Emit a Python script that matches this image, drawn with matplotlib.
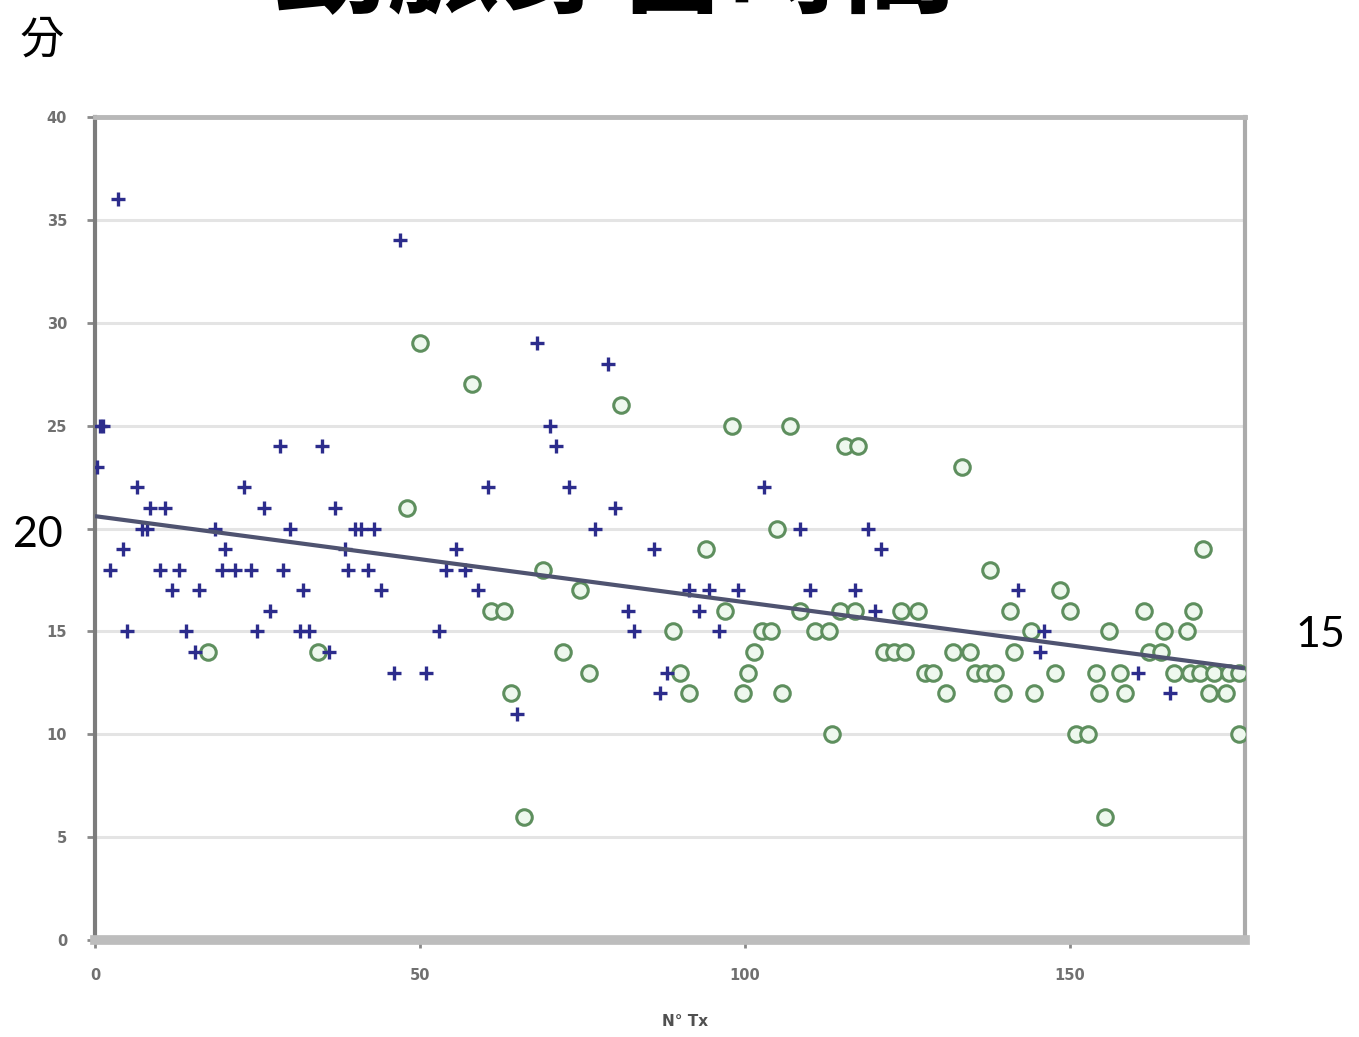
import matplotlib
matplotlib.use("Agg")
import matplotlib.pyplot as plt
import numpy as np

# ---------------- data ----------------
blue_x = [0.3, 0.8, 1.2, 3.5, 2.3, 4.3, 5, 6.5, 7.2, 8.5, 10.8, 8.0, 10, 11.8, 13, 14, 15.4, 16,
          18.5, 20, 19.5, 21.5, 23, 24, 25, 26, 27, 28.5, 29, 30, 31.5, 32, 33, 35, 36, 37, 38.5,
          39, 40, 41, 42, 43, 44, 46, 47, 51, 53, 54, 55.5, 57, 59, 60.5, 65, 68, 70, 71, 73, 77,
          79, 80, 82, 83, 86, 87, 88, 91.5, 93, 94.5, 96, 99, 103, 108.5, 110, 117, 119, 121, 120,
          142, 146, 145.5, 160.5, 165.5]
blue_y = [23, 25, 25, 36, 18, 19, 15, 22, 20, 21, 21, 20, 18, 17, 18, 15, 14, 17,
          20, 19, 18, 18, 22, 18, 15, 21, 16, 24, 18, 20, 15, 17, 15, 24, 14, 21, 19,
          18, 20, 20, 18, 20, 17, 13, 34, 13, 15, 18, 19, 18, 17, 22, 11, 29, 25, 24, 22, 20,
          28, 21, 16, 15, 19, 12, 13, 17, 16, 17, 15, 17, 22, 20, 17, 17, 20, 19, 16,
          17, 15, 14, 13, 12]

green_x = [17.4, 34.3, 48, 50, 58, 61, 63, 64, 66, 69, 72, 74.6, 76, 81, 89, 90, 91.5, 94, 97,
           98, 99.7, 100.5, 101.5, 102.6, 104, 105, 105.7, 107, 108.5, 110.8, 113, 113.5, 115.4,
           117.4, 114.6, 117, 121.5, 123, 124.6, 124, 126.6, 127.7, 129, 131, 132, 133.5, 134.6,
           135.4, 137, 137.7, 138.5, 139.7, 140.8, 141.5, 144, 144.6, 147.7, 148.5, 150, 151,
           152.8, 154, 154.6, 155.4, 156, 157.7, 158.5, 161.5, 162.3, 164, 164.6, 166, 168, 168.5,
           169, 170.5, 170, 171.5, 172.3, 174, 174.6, 176, 176]
green_y = [14, 14, 21, 29, 27, 16, 16, 12, 6, 18, 14, 17, 13, 26, 15, 13, 12, 19, 16,
           25, 12, 13, 14, 15, 15, 20, 12, 25, 16, 15, 15, 10, 24,
           24, 16, 16, 14, 14, 14, 16, 16, 13, 13, 12, 14, 23, 14,
           13, 13, 18, 13, 12, 16, 14, 15, 12, 13, 17, 16, 10,
           10, 13, 12, 6, 15, 13, 12, 16, 14, 14, 15, 13, 15, 13,
           16, 19, 13, 12, 13, 12, 13, 13, 10]

trend_x = [0, 177]
trend_y = [20.6, 13.2]

y_ticks = [0, 5, 10, 15, 20, 25, 30, 35, 40]
y_tick_labels = ["0", "5", "10", "15", "", "25", "30", "35", "40"]  # "20" hidden under the big note
x_ticks = [0, 50, 100, 150]
x_tick_labels = ["0", "50", "100", "150"]
x_label = "N° Tx"
title_text = "動脈穿留時間"
unit_text = "分"
note_left = "20"
note_right = "15"

# ---------------- figure ----------------
W, H = 1359, 1037
fig = plt.figure(figsize=(W / 100, H / 100), dpi=100)
fig.patch.set_facecolor("white")

ax = fig.add_axes([95 / W, 1 - 940 / H, 1150 / W, 823 / H])
ax.set_xlim(0, 177)
ax.set_ylim(0, 40)

for yv in y_ticks[1:-1]:
    ax.axhline(yv, color="#E4E4E4", lw=2.2, zorder=0)

ax.scatter(green_x, green_y, s=125, marker="o", facecolors="#EEF8EE",
           edgecolors="#5E8F5E", linewidths=2.2, zorder=3)
ax.scatter(blue_x, blue_y, s=100, marker="+", color="#2C2C8C",
           linewidths=2.4, zorder=4)
ax.plot(trend_x, trend_y, color="#4F5370", lw=3.0, zorder=5, solid_capstyle="butt")

# frame
ax.spines["left"].set_color("#7C7C7C")
ax.spines["left"].set_linewidth(3)
ax.spines["bottom"].set_color("#BDBDBD")
ax.spines["bottom"].set_linewidth(7)
ax.spines["top"].set_color("#B8B8B8")
ax.spines["top"].set_linewidth(3.5)
ax.spines["right"].set_color("#ABABAB")
ax.spines["right"].set_linewidth(3)

ax.set_yticks(y_ticks)
ax.set_yticklabels(y_tick_labels)
ax.set_xticks(x_ticks)
ax.set_xticklabels(x_tick_labels)
ax.tick_params(axis="both", colors="#8A8A8A", labelcolor="#707070",
               labelsize=10.5, length=6, width=2, direction="out")
for lbl in ax.get_xticklabels() + ax.get_yticklabels():
    lbl.set_fontweight("bold")
ax.tick_params(axis="y", pad=14)
ax.tick_params(axis="x", pad=14)

fig.text(685 / W, 1 - 1022 / H, x_label, ha="center", va="center",
         fontsize=11, fontweight="bold", color="#505050")

cjk = ["Noto Sans CJK TC", "DejaVu Sans"]
fig.text(615 / W, 1 - 4 / H, title_text, ha="center", va="baseline",
         fontsize=82, fontweight="bold", family=cjk, color="black")
fig.text(42 / W, 1 - 40 / H, unit_text, ha="center", va="center",
         fontsize=32, family=cjk, color="black")
fig.text(38 / W, 1 - 535 / H, note_left, ha="center", va="center",
         fontsize=31, family=["Lato", "DejaVu Sans"], color="black")
fig.text(1320 / W, 1 - 635 / H, note_right, ha="center", va="center",
         fontsize=31, family=["Lato", "DejaVu Sans"], color="black")

fig.savefig("out.png", dpi=100, facecolor="white")
